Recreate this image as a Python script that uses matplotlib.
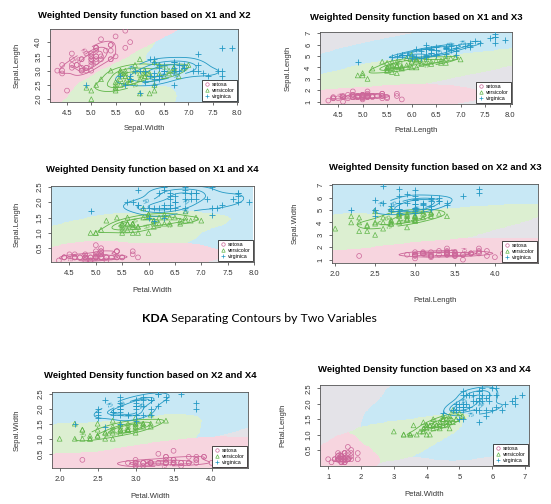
import numpy as np
import matplotlib
matplotlib.use('Agg')
import matplotlib.pyplot as plt
from matplotlib.colors import ListedColormap
from matplotlib.lines import Line2D

""" KDA separating contours, iris data, pairs of variables """

# iris data (Fisher), 50 rows per species
sepal_length = [5.1, 4.9, 4.7, 4.6, 5.0, 5.4, 4.6, 5.0, 4.4, 4.9, 5.4, 4.8, 4.8, 4.3, 5.8, 5.7, 5.4, 5.1, 5.7, 5.1,
                5.4, 5.1, 4.6, 5.1, 4.8, 5.0, 5.0, 5.2, 5.2, 4.7, 4.8, 5.4, 5.2, 5.5, 4.9, 5.0, 5.5, 4.9, 4.4, 5.1,
                5.0, 4.5, 4.4, 5.0, 5.1, 4.8, 5.1, 4.6, 5.3, 5.0,
                7.0, 6.4, 6.9, 5.5, 6.5, 5.7, 6.3, 4.9, 6.6, 5.2, 5.0, 5.9, 6.0, 6.1, 5.6, 6.7, 5.6, 5.8, 6.2, 5.6,
                5.9, 6.1, 6.3, 6.1, 6.4, 6.6, 6.8, 6.7, 6.0, 5.7, 5.5, 5.5, 5.8, 6.0, 5.4, 6.0, 6.7, 6.3, 5.6, 5.5,
                5.5, 6.1, 5.8, 5.0, 5.6, 5.7, 5.7, 6.2, 5.1, 5.7,
                6.3, 5.8, 7.1, 6.3, 6.5, 7.6, 4.9, 7.3, 6.7, 7.2, 6.5, 6.4, 6.8, 5.7, 5.8, 6.4, 6.5, 7.7, 7.7, 6.0,
                6.9, 5.6, 7.7, 6.3, 6.7, 7.2, 6.2, 6.1, 6.4, 7.2, 7.4, 7.9, 6.4, 6.3, 6.1, 7.7, 6.3, 6.4, 6.0, 6.9,
                6.7, 6.9, 5.8, 6.8, 6.7, 6.7, 6.3, 6.5, 6.2, 5.9]
sepal_width = [3.5, 3.0, 3.2, 3.1, 3.6, 3.9, 3.4, 3.4, 2.9, 3.1, 3.7, 3.4, 3.0, 3.0, 4.0, 4.4, 3.9, 3.5, 3.8, 3.8,
               3.4, 3.7, 3.6, 3.3, 3.4, 3.0, 3.4, 3.5, 3.4, 3.2, 3.1, 3.4, 4.1, 4.2, 3.1, 3.2, 3.5, 3.6, 3.0, 3.4,
               3.5, 2.3, 3.2, 3.5, 3.8, 3.0, 3.8, 3.2, 3.7, 3.3,
               3.2, 3.2, 3.1, 2.3, 2.8, 2.8, 3.3, 2.4, 2.9, 2.7, 2.0, 3.0, 2.2, 2.9, 2.9, 3.1, 3.0, 2.7, 2.2, 2.5,
               3.2, 2.8, 2.5, 2.8, 2.9, 3.0, 2.8, 3.0, 2.9, 2.6, 2.4, 2.4, 2.7, 2.7, 3.0, 3.4, 3.1, 2.3, 3.0, 2.5,
               2.6, 3.0, 2.6, 2.3, 2.7, 3.0, 2.9, 2.9, 2.5, 2.8,
               3.3, 2.7, 3.0, 2.9, 3.0, 3.0, 2.5, 2.9, 2.5, 3.6, 3.2, 2.7, 3.0, 2.5, 2.8, 3.2, 3.0, 3.8, 2.6, 2.2,
               3.2, 2.8, 2.8, 2.7, 3.3, 3.2, 2.8, 3.0, 2.8, 3.0, 2.8, 3.8, 2.8, 2.8, 2.6, 3.0, 3.4, 3.1, 3.0, 3.1,
               3.1, 3.1, 2.7, 3.2, 3.3, 3.0, 2.5, 3.0, 3.4, 3.0]
petal_length = [1.4, 1.4, 1.3, 1.5, 1.4, 1.7, 1.4, 1.5, 1.4, 1.5, 1.5, 1.6, 1.4, 1.1, 1.2, 1.5, 1.3, 1.4, 1.7, 1.5,
                1.7, 1.5, 1.0, 1.7, 1.9, 1.6, 1.6, 1.5, 1.4, 1.6, 1.6, 1.5, 1.5, 1.4, 1.5, 1.2, 1.3, 1.4, 1.3, 1.5,
                1.3, 1.3, 1.3, 1.6, 1.9, 1.4, 1.6, 1.4, 1.5, 1.4,
                4.7, 4.5, 4.9, 4.0, 4.6, 4.5, 4.7, 3.3, 4.6, 3.9, 3.5, 4.2, 4.0, 4.7, 3.6, 4.4, 4.5, 4.1, 4.5, 3.9,
                4.8, 4.0, 4.9, 4.7, 4.3, 4.4, 4.8, 5.0, 4.5, 3.5, 3.8, 3.7, 3.9, 5.1, 4.5, 4.5, 4.7, 4.4, 4.1, 4.0,
                4.4, 4.6, 4.0, 3.3, 4.2, 4.2, 4.2, 4.3, 3.0, 4.1,
                6.0, 5.1, 5.9, 5.6, 5.8, 6.6, 4.5, 6.3, 5.8, 6.1, 5.1, 5.3, 5.5, 5.0, 5.1, 5.3, 5.5, 6.7, 6.9, 5.0,
                5.7, 4.9, 6.7, 4.9, 5.7, 6.0, 4.8, 4.9, 5.6, 5.8, 6.1, 6.4, 5.6, 5.1, 5.6, 6.1, 5.6, 5.5, 4.8, 5.4,
                5.6, 5.1, 5.1, 5.9, 5.7, 5.2, 5.0, 5.2, 5.4, 5.1]
petal_width = [0.2, 0.2, 0.2, 0.2, 0.2, 0.4, 0.3, 0.2, 0.2, 0.1, 0.2, 0.2, 0.1, 0.1, 0.2, 0.4, 0.4, 0.3, 0.3, 0.3,
               0.2, 0.4, 0.2, 0.5, 0.2, 0.2, 0.4, 0.2, 0.2, 0.2, 0.2, 0.4, 0.1, 0.2, 0.2, 0.2, 0.2, 0.1, 0.2, 0.2,
               0.3, 0.3, 0.2, 0.6, 0.4, 0.3, 0.2, 0.2, 0.2, 0.2,
               1.4, 1.5, 1.5, 1.3, 1.5, 1.3, 1.6, 1.0, 1.3, 1.4, 1.0, 1.5, 1.0, 1.4, 1.3, 1.4, 1.5, 1.0, 1.5, 1.1,
               1.8, 1.3, 1.5, 1.2, 1.3, 1.4, 1.4, 1.7, 1.5, 1.0, 1.1, 1.0, 1.2, 1.6, 1.5, 1.6, 1.5, 1.3, 1.3, 1.3,
               1.2, 1.4, 1.2, 1.0, 1.3, 1.2, 1.3, 1.3, 1.1, 1.3,
               2.5, 1.9, 2.1, 1.8, 2.2, 2.1, 1.7, 1.8, 1.8, 2.5, 2.0, 1.9, 2.1, 2.0, 2.4, 2.3, 1.8, 2.2, 2.3, 1.5,
               2.3, 2.0, 2.0, 1.8, 2.1, 1.8, 1.8, 1.8, 2.1, 1.6, 1.9, 2.0, 2.2, 1.5, 1.4, 2.3, 2.4, 1.8, 1.8, 2.1,
               2.4, 2.3, 1.9, 2.3, 2.5, 2.3, 1.9, 2.0, 2.3, 1.8]
species = ['setosa', 'versicolor', 'virginica']
n_per_species = 50

# panel layout: which variables, labels as printed, ticks
pairs = [(0, 1), (0, 2), (0, 3), (1, 2), (1, 3), (2, 3)]
pair_names = ['X1 and X2', 'X1 and X3', 'X1 and X4', 'X2 and X3', 'X2 and X4', 'X3 and X4']
x_labels = ['Sepal.Width', 'Petal.Length', 'Petal.Width', 'Petal.Length', 'Petal.Width', 'Petal.Width']
y_labels = ['Sepal.Length', 'Sepal.Length', 'Sepal.Length', 'Sepal.Width', 'Sepal.Width', 'Petal.Length']
x_ticks = [np.arange(4.5, 8.01, 0.5)] * 3 + [np.arange(2.0, 4.01, 0.5)] * 2 + [np.arange(1, 8)]
y_ticks = [np.arange(2.0, 4.01, 0.5), np.arange(1, 8), np.arange(0.5, 2.51, 0.5),
           np.arange(1, 8), np.arange(0.5, 2.51, 0.5), np.arange(0.5, 2.51, 0.5)]
y_fmt = ['%.1f', '%d', '%.1f', '%d', '%.1f', '%.1f']
x_fmt = ['%.1f'] * 5 + ['%d']
x_lims = [(4.15, 8.02), (4.13, 8.05), (4.15, 7.98), (1.96, 4.54), (1.9, 4.48), (0.75, 7.12)]
y_lims = [(1.9, 4.46), (0.8, 7.1), (0.05, 2.53), (0.73, 7.1), (0.03, 2.55), (-0.02, 2.61)]
cont_pct = [25, 50, 75]

# axes boxes in pixels: left, top, right, bottom
W, H = 551, 504
boxes = [(50, 29, 238, 102), (320, 32, 512, 104),
         (51, 186, 254, 262), (332, 184, 538, 263),
         (52, 392, 248, 468), (320, 385, 529, 466)]
title_y = [15, 17, 170, 168, 375, 370]
xlab_y = [128, 131, 290, 300, 497, 495]
ylab_x = [17, 288, 17, 295, 17, 283]

pt_cols = ['#cc6699', '#5fb548', '#2399c4']
bg_cols = ['#f7d5df', '#dcefd1', '#c8e8f5', '#e4e3e8']
markers = ['o', '^', '+']

data = np.column_stack([sepal_length, sepal_width, petal_length, petal_width])
groups = [data[i * n_per_species:(i + 1) * n_per_species] for i in range(3)]


def kde(pts, gx, gy):
   n = len(pts)
   Hm = np.cov(pts.T) * n ** (-1 / 3) * 1.2
   Hi = np.linalg.inv(Hm)
   dx = gx[..., None] - pts[:, 0]
   dy = gy[..., None] - pts[:, 1]
   q = Hi[0, 0] * dx ** 2 + 2 * Hi[0, 1] * dx * dy + Hi[1, 1] * dy ** 2
   return np.exp(-0.5 * q).sum(-1) / (n * 2 * np.pi * np.sqrt(np.linalg.det(Hm)))


plt.rcParams['font.family'] = ['Liberation Sans', 'DejaVu Sans']
fig = plt.figure(figsize=(W / 100, H / 100), dpi=100)

axes = []
for k, (i, j) in enumerate(pairs):
   l, t, r, b = boxes[k]
   ax = fig.add_axes([l / W, 1 - b / H, (r - l) / W, (b - t) / H])
   axes.append(ax)
   x0, x1 = x_lims[k]
   y0, y1 = y_lims[k]
   gx, gy = np.meshgrid(np.linspace(x0, x1, 180), np.linspace(y0, y1, 140))
   dens = [kde(g[:, [i, j]], gx, gy) for g in groups]
   stack = np.array(dens)
   cls = stack.argmax(0).astype(float)
   cls[stack.max(0) < 1e-15] = 3
   ax.imshow(cls, origin='lower', extent=(x0, x1, y0, y1), aspect='auto',
             cmap=ListedColormap(bg_cols), vmin=-0.5, vmax=3.5, interpolation='nearest', zorder=0)

   for c, g in enumerate(groups):
      at_pts = kde(g[:, [i, j]], g[:, i], g[:, j])
      lev = sorted(np.quantile(at_pts, 1 - p / 100) for p in cont_pct)
      cs = ax.contour(gx, gy, dens[c], levels=lev, colors=pt_cols[c], linewidths=0.6, zorder=2)
      names = {lv: str(p) for lv, p in zip(lev, sorted(cont_pct, reverse=True))}
      ax.clabel(cs, fmt=names, fontsize=4.5, inline=True)
      if markers[c] == '+':
         ax.scatter(g[:, i], g[:, j], marker='+', color=pt_cols[c], s=22, linewidths=0.6, zorder=3)
      else:
         ax.scatter(g[:, i], g[:, j], marker=markers[c], facecolors='none', edgecolors=pt_cols[c],
                    s=12, linewidths=0.5, zorder=3)

   ax.set_xlim(x0, x1)
   ax.set_ylim(y0, y1)
   ax.set_xticks(x_ticks[k])
   ax.set_yticks(y_ticks[k])
   ax.set_xticklabels([x_fmt[k] % v for v in x_ticks[k]])
   ax.set_yticklabels([y_fmt[k] % v for v in y_ticks[k]], rotation=90, va='center')
   ax.tick_params(labelsize=5.5, length=2.5, width=0.5, pad=3, colors='#333333')
   for sp in ax.spines.values():
      sp.set_linewidth(0.6)
      sp.set_color('#555555')

   handles = [Line2D([], [], ls='none', marker=markers[c], color=pt_cols[c], mfc='none',
                     ms=2.5, mew=0.5) for c in range(3)]
   leg = ax.legend(handles, species, loc='lower right', fontsize=3.8, borderaxespad=0.25,
                   handlelength=1.0, handletextpad=0.4, labelspacing=0.15, borderpad=0.4,
                   fancybox=False, framealpha=1)
   leg.get_frame().set_edgecolor('black')
   leg.get_frame().set_linewidth(0.5)
   leg.set_zorder(5)

   cx = (l + r) / 2
   fig.text(cx / W, 1 - title_y[k] / H, 'Weighted Density function based on ' + pair_names[k],
            ha='center', va='center', fontsize=6.8, fontweight='bold')
   fig.text(cx / W, 1 - xlab_y[k] / H, x_labels[k], ha='center', va='center', fontsize=5.5, color='#333333')
   fig.text(ylab_x[k] / W, 1 - (t + b) / 2 / H, y_labels[k], ha='center', va='center',
            rotation=90, fontsize=5.5, color='#333333')

# caption between the rows
cap = fig.text(142 / W, 1 - 319 / H, 'KDA', ha='left', va='center', fontsize=8.8,
               fontweight='bold', family='Lato')
axes[0].annotate(' Separating Contours by Two Variables', xy=(1, 0), xycoords=cap,
                 ha='left', va='bottom', fontsize=8.8, family='Lato', annotation_clip=False)

plt.savefig('out.png', dpi=100)
